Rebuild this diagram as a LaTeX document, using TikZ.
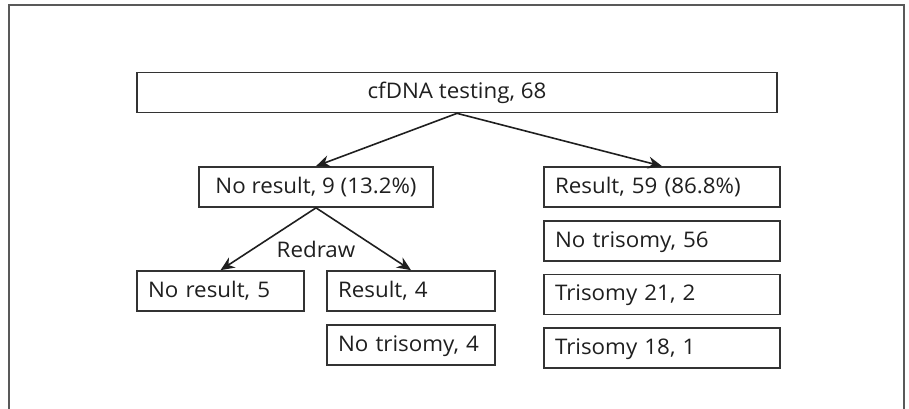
\documentclass[tikz,border=0pt]{standalone}
\usepackage{fontspec}
\setmainfont{Open Sans}[FakeStretch=1.04]
\usetikzlibrary{positioning,arrows.meta}

\tikzset{
  flowbox/.style={draw=black!80, line width=1.7pt, rectangle, minimum height=40pt,
    inner xsep=11pt, inner ysep=0pt, text height=14pt, text depth=1pt,
    font=\fontsize{21.5}{24}\selectfont, text=black!88},
  leftbox/.style={flowbox, align=left, text width=#1},
  flowarrow/.style={-{Stealth[length=14pt,width=12pt]}, line width=1.6pt, draw=black!88},
  frameline/.style={draw=black!65, line width=2.2pt}
}

\begin{document}
\begin{tikzpicture}[x=1pt,y=-1pt]
\useasboundingbox (0,0) rectangle (909,409);
\draw[frameline] (9,409) |- (904,5) -- (904,409);

% top of the tree
\node[flowbox, minimum width=640pt] (cfdna) at (457,92.5) {cfDNA testing, 68};
\node[flowbox, minimum width=234pt] (nores) at (316,187) {No result, 9 (13.2\%)};
\node[leftbox=214pt] (res) at (662,187) {Result, 59 (86.8\%)};

% results
\node[leftbox=214pt, below=12pt of res] (notri) {No trisomy, 56};
\node[leftbox=214pt, below=12pt of notri] (tritwo) {Trisomy 21, 2};
\node[leftbox=214pt, below=12pt of tritwo] (trione) {Trisomy 18, 1};

% redraw
\node[leftbox=145pt] (noresredraw) at (220.5,291) {No result, 5};
\node[leftbox=146pt] (resredraw) at (411,291) {Result, 4};
\node[leftbox=146pt, below=12pt of resredraw] (notriredraw) {No trisomy, 4};
\node[font=\fontsize{21.5}{24}\selectfont, text=black!88] (redraw) at (316,249) {Redraw};

\draw[flowarrow] (cfdna.south) -- (nores.north);
\draw[flowarrow] (cfdna.south) -- (res.north);
\draw[flowarrow] (nores.south) -- (noresredraw.north);
\draw[flowarrow] (nores.south) -- (resredraw.north);
\end{tikzpicture}
\end{document}
